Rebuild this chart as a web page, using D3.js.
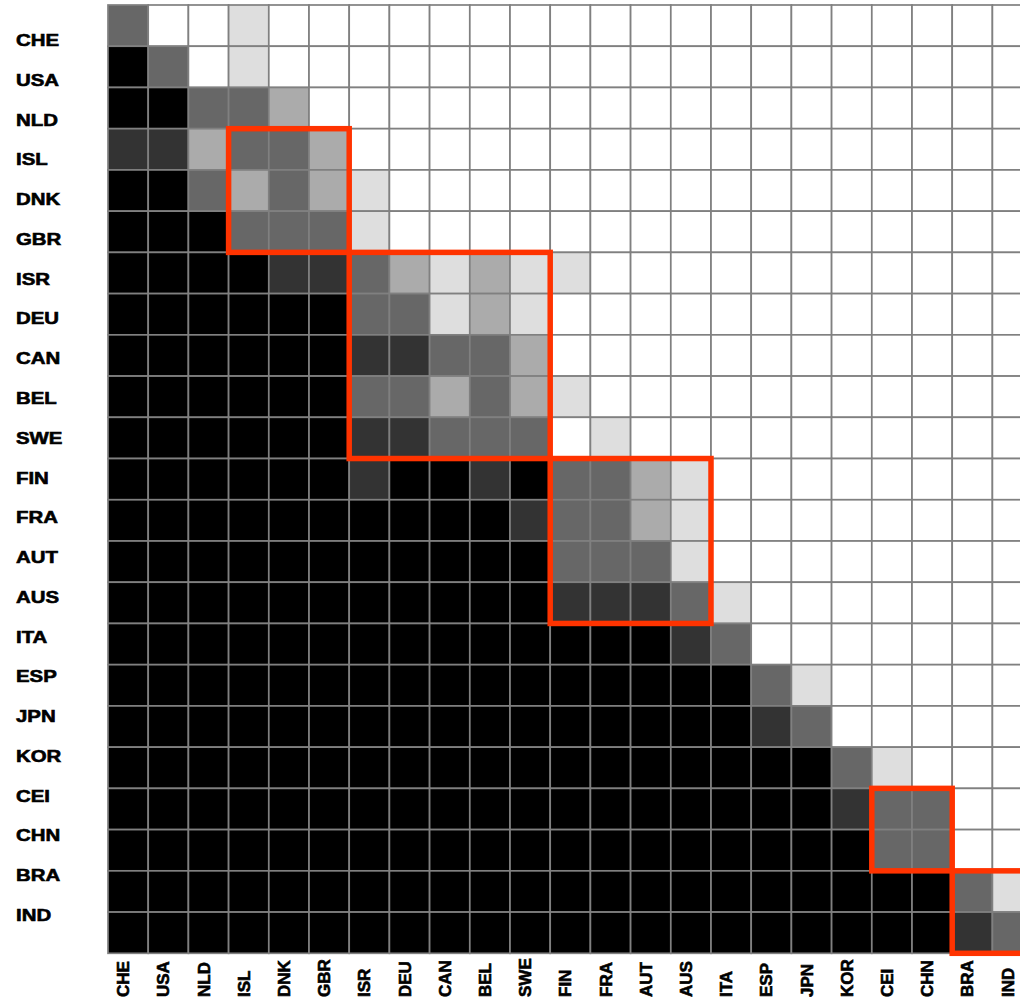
<!DOCTYPE html>
<html>
<head>
<meta charset="utf-8">
<script src="https://cdn.jsdelivr.net/npm/d3@7"></script>
<style>
  body { margin: 0; background: #fff; }
  text { font-family: "Liberation Sans", Arial, sans-serif; font-weight: bold; fill: #000; }
</style>
</head>
<body>
<svg id="chart" width="1020" height="1001"></svg>
<script>
// country order (rows top->bottom, columns left->right)
const countries = ['CHE','USA','NLD','ISL','DNK','GBR','ISR','DEU','CAN','BEL','SWE',
  'FIN','FRA','AUT','AUS','ITA','ESP','JPN','KOR','CEI','CHN','BRA','IND'];

// shade level per cell, 0 = white ... 5 = black (one string per row)
const levels = [
  '30010000000000000000000',
  '53010000000000000000000',
  '55332000000000000000000',
  '44233200000000000000000',
  '55323210000000000000000',
  '55533310000000000000000',
  '55554432121100000000000',
  '55555533121000000000000',
  '55555544332000000000000',
  '55555533232100000000000',
  '55555544333010000000000',
  '55555545545332100000000',
  '55555555554332100000000',
  '55555555555333100000000',
  '55555555555444310000000',
  '55555555555555430000000',
  '55555555555555553100000',
  '55555555555555554300000',
  '55555555555555555531000',
  '55555555555555555543300',
  '55555555555555555553300',
  '55555555555555555555531',
  '55555555555555555555543'
];

const shades = ['#ffffff', '#dedede', '#ababab', '#676767', '#333333', '#000000'];

// clusters outlined in red: [first index, last index]
const clusters = [[3, 5], [6, 10], [11, 14], [19, 20], [21, 22]];

const svg = d3.select('#chart');

const x = d3.scaleBand().domain(countries).range([108, 1032.6]);
const y = d3.scaleBand().domain(countries).range([5, 953.3]);
const color = d3.scaleOrdinal().domain(d3.range(6)).range(shades);
// row labels sit on a slightly tighter spacing than the rows
const labelY = d3.scalePoint().domain(countries).range([46, 921]);

const cells = [];
levels.forEach((row, i) => {
  row.split('').forEach((v, j) => {
    cells.push({row: countries[i], col: countries[j], v: +v});
  });
});

svg.append('g').selectAll('rect')
  .data(cells)
  .join('rect')
    .attr('x', d => x(d.col))
    .attr('y', d => y(d.row))
    .attr('width', x.bandwidth())
    .attr('height', y.bandwidth())
    .attr('fill', d => color(d.v))
    .attr('stroke', '#808080')
    .attr('stroke-width', 1.7);

// red cluster boxes
svg.append('g').selectAll('rect')
  .data(clusters)
  .join('rect')
    .attr('x', d => x(countries[d[0]]))
    .attr('y', d => y(countries[d[0]]))
    .attr('width', d => x(countries[d[1]]) + x.bandwidth() - x(countries[d[0]]))
    .attr('height', d => y(countries[d[1]]) + y.bandwidth() - y(countries[d[0]]))
    .attr('fill', 'none')
    .attr('stroke', '#ff3300')
    .attr('stroke-width', 5.5);

// row labels
svg.append('g').selectAll('text')
  .data(countries)
  .join('text')
    .attr('transform', d => `translate(16,${labelY(d)}) scale(1.2,1)`)
    .attr('font-size', 17)
    .attr('stroke', '#000')
    .attr('stroke-width', 0.6)
    .text(d => d);

// column labels, rotated
svg.append('g').selectAll('text')
  .data(countries)
  .join('text')
    .attr('transform', d => `translate(${x(d) + x.bandwidth() / 2 + 1},997) rotate(-90)`)
    .attr('font-size', 17)
    .attr('stroke', '#000')
    .attr('stroke-width', 0.6)
    .text(d => d);
</script>
</body>
</html>
